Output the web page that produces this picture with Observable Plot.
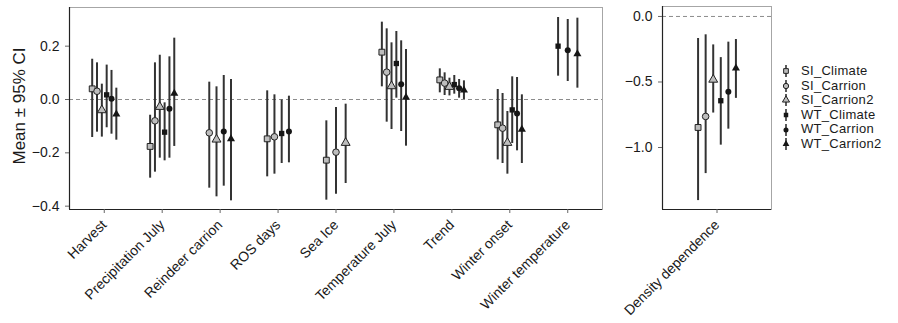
<!DOCTYPE html>
<html>
<head>
<meta charset="utf-8">
<script src="https://cdn.jsdelivr.net/npm/d3@7"></script>
<script src="https://cdn.jsdelivr.net/npm/@observablehq/plot@0.6"></script>
<style>
  html, body { margin: 0; padding: 0; background: #fff; }
  #wrap { position: relative; width: 898px; height: 323px; font-family: "Liberation Sans", Arial, sans-serif; color: #1a1a1a; overflow: hidden; }
  #wrap svg { position: absolute; overflow: visible; font-family: "Liberation Sans", Arial, sans-serif; }
  #ytitle { position: absolute; left: 20px; top: 106px; transform: translate(-50%, -50%) rotate(-90deg); font-size: 17px; white-space: nowrap; }
  #legend { position: absolute; left: 780px; top: 64px; font-size: 13px; }
  #legend .row { height: 14.6px; display: flex; align-items: center; white-space: nowrap; }
  #legend .row svg { position: static; margin-right: 9px; }
  #legend .row span { display: inline-block; line-height: 14.6px; letter-spacing: 0.3px; }
</style>
</head>
<body>
<div id="wrap">
  <div id="ytitle">Mean ± 95% CI</div>
  <div id="legend"></div>
</div>
<script>
// ---- data ----
const categories = ["Harvest", "Precipitation July", "Reindeer carrion", "ROS days", "Sea Ice",
  "Temperature July", "Trend", "Winter onset", "Winter temperature"];
const series = ["SI_Climate", "SI_Carrion", "SI_Carrion2", "WT_Climate", "WT_Carrion", "WT_Carrion2"];
const seriesShape = ["square", "circle", "triangle", "square", "circle", "triangle"];
const seriesOpen = [true, true, true, false, false, false];

// rows: categories, columns: series (null = not estimated)
const meanLeft = [
  [0.04, 0.031, -0.04, 0.0175, 0.0025, -0.055],
  [-0.176, -0.08, -0.0275, -0.1225, -0.035, 0.0225],
  [null, -0.125, -0.15, null, -0.12, -0.1475],
  [-0.1475, -0.14, null, -0.1275, -0.12, null],
  [-0.2275, -0.1975, -0.1625, null, null, null],
  [0.1775, 0.1025, 0.05, 0.135, 0.0575, 0.0075],
  [0.0735, 0.0615, 0.0475, 0.056, 0.0425, 0.035],
  [-0.095, -0.1075, -0.1625, -0.039, -0.0525, -0.1125],
  [null, null, null, 0.2, 0.185, 0.171]
];
const lowerLeft = [
  [-0.1425, -0.1225, -0.141, -0.106, -0.13, -0.1525],
  [-0.295, -0.2725, -0.22, -0.23, -0.22, -0.176],
  [null, -0.3325, -0.365, null, -0.325, -0.38],
  [-0.29, -0.28, null, -0.24, -0.2375, null],
  [-0.3775, -0.355, -0.315, null, null, null],
  [0.0475, -0.085, -0.1125, 0.005, -0.12, -0.175],
  [0.025, 0.015, 0.0135, 0.02, 0.005, 0.0],
  [-0.2265, -0.24, -0.28, -0.165, -0.1925, -0.24],
  [null, null, null, 0.0875, 0.0675, 0.0425]
];
const upperLeft = [
  [0.151, 0.1375, 0.0575, 0.129, 0.109, 0.0425],
  [-0.059, 0.1375, 0.166, -0.0125, 0.16, 0.23],
  [null, 0.065, 0.0475, null, 0.09, 0.075],
  [0.0325, 0.0175, null, -0.002, 0.0125, null],
  [-0.08, -0.03, -0.0175, null, null, null],
  [0.29, 0.265, 0.2125, 0.255, 0.22, 0.1875],
  [0.115, 0.1, 0.08, 0.09, 0.075, 0.07],
  [0.0375, 0.0225, -0.045, 0.085, 0.0825, 0.0175],
  [null, null, null, 0.3075, 0.3, 0.305]
];

const densityCategory = ["Density dependence"];
const densityMean = [-0.847, -0.763, -0.482, -0.643, -0.574, -0.395];
const densityLower = [-1.405, -1.199, -0.737, -0.982, -0.860, -0.625];
const densityUpper = [-0.168, -0.14, -0.217, -0.314, -0.196, -0.176];

const leftTicks = [-0.4, -0.2, 0, 0.2];
const rightTicks = [-1, -0.5, 0];

// ---- build tidy rows with dodge (width 0.5 shared among present series) ----
function dodgeRows(means, lows, highs, catIndex) {
  const present = series.map((s, j) => j).filter(j => means[j] != null);
  const n = present.length;
  return present.map((j, k) => ({
    category: catIndex,
    series: series[j],
    open: seriesOpen[j],
    pos: catIndex + (k - (n - 1) / 2) * 0.5 / n,
    mean: means[j], lo: lows[j], hi: highs[j]
  }));
}
const leftRows = categories.flatMap((c, i) => dodgeRows(meanLeft[i], lowerLeft[i], upperLeft[i], i));
const rightRows = dodgeRows(densityMean, densityLower, densityUpper, 0);

const fmt = d => (d < 0 ? "\u2212" : "") + Math.abs(d).toFixed(1);
const symbolScale = { domain: series, range: seriesShape, legend: false };

function panelMarks(rows, xdom, ydom, xticks, xfmt, yticks) {
  return [
    Plot.frame({ stroke: "#a6a6a6" }),
    Plot.ruleY([0], { stroke: "#8c8c8c", strokeDasharray: "4,3", strokeWidth: 1 }),
    Plot.ruleX(rows, { x: "pos", y1: "lo", y2: "hi", stroke: "#333", strokeWidth: 2 }),
    Plot.dot(rows.filter(d => d.open), { x: "pos", y: "mean", symbol: "series", r: 3.3, fill: "#bdbdbd", stroke: "#222", strokeWidth: 1 }),
    Plot.dot(rows.filter(d => !d.open), { x: "pos", y: "mean", symbol: "series", r: 3.0, fill: "#161616", stroke: "none" }),
    Plot.ruleX([xdom[0]], { stroke: "#222", strokeWidth: 1.2 }),
    Plot.ruleY([ydom[0]], { stroke: "#222", strokeWidth: 1.2 }),
    Plot.axisX({ ticks: xticks, tickFormat: xfmt, tickRotate: -45, tickSize: 4, tickPadding: 9,
      fontSize: 14, label: null, stroke: "#666", fill: "#1a1a1a" }),
    Plot.axisY({ ticks: yticks, tickFormat: fmt, tickSize: 4, tickPadding: 6,
      fontSize: 14, label: null, stroke: "#666", fill: "#1a1a1a" })
  ];
}

const leftX = [-0.6, 8.6], leftY = [-0.4125, 0.345];
const left = Plot.plot({
  width: 640, height: 323,
  marginLeft: 69, marginRight: 38, marginTop: 7, marginBottom: 114,
  x: { domain: leftX },
  y: { domain: leftY },
  symbol: symbolScale,
  marks: panelMarks(leftRows, leftX, leftY, d3.range(categories.length), i => categories[i], leftTicks)
});
left.style.left = "0px"; left.style.top = "0px";

const rightX = [-0.6, 0.6], rightY = [-1.473, 0.076];
const right = Plot.plot({
  width: 160, height: 323,
  marginLeft: 42, marginRight: 9, marginTop: 6, marginBottom: 114,
  x: { domain: rightX },
  y: { domain: rightY },
  symbol: symbolScale,
  marks: panelMarks(rightRows, rightX, rightY, [0], i => densityCategory[i], rightTicks)
});
right.style.left = "620px"; right.style.top = "0px";

const wrap = document.getElementById("wrap");
wrap.appendChild(left);
wrap.appendChild(right);

// ---- legend (pointrange keys) ----
const legend = document.getElementById("legend");
series.forEach((s, j) => {
  const row = document.createElement("div");
  row.className = "row";
  const sym = d3.symbol().type(
    seriesShape[j] === "square" ? d3.symbolSquare : seriesShape[j] === "circle" ? d3.symbolCircle : d3.symbolTriangle
  ).size(seriesOpen[j] ? 22 : 20)();
  row.innerHTML =
    `<svg width="12" height="14" viewBox="-6 -7 12 14">
       <line x1="0" x2="0" y1="-6" y2="6" stroke="#333" stroke-width="1.6"/>
       <path d="${sym}" fill="${seriesOpen[j] ? "#bdbdbd" : "#161616"}" stroke="${seriesOpen[j] ? "#222" : "none"}" stroke-width="1"/>
     </svg><span>${s}</span>`;
  legend.appendChild(row);
});
</script>
</body>
</html>
